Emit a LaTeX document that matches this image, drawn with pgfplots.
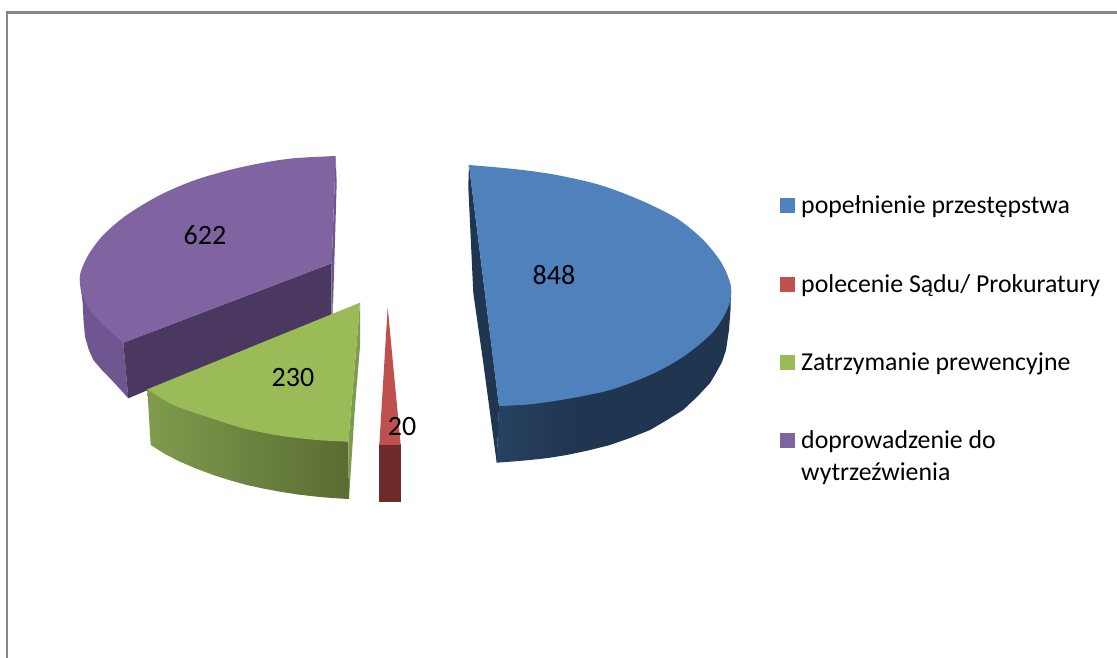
\documentclass[border=0pt]{standalone}
\usepackage{pgfplots}
\pgfplotsset{compat=1.18}
\usepackage{fontspec}
\setmainfont{Carlito}
\definecolor{bluetop}{HTML}{4F81BD}
\definecolor{blueside}{HTML}{1F3550}
\definecolor{blueleft}{HTML}{2E4B6F}
\definecolor{redtop}{HTML}{C0504D}
\definecolor{reddark}{HTML}{6E2B2B}
\definecolor{greentop}{HTML}{9BBB59}
\definecolor{greensliver}{HTML}{7F9B4D}
\definecolor{greenleft}{HTML}{7F9C4D}
\definecolor{greenright}{HTML}{5A6C32}
\definecolor{purpletop}{HTML}{8064A2}
\definecolor{purpleside}{HTML}{6F5690}
\definecolor{purpledark}{HTML}{4A3860}
\definecolor{frameg}{HTML}{868686}
\pgfdeclarehorizontalshading{bluesideshade}{100bp}{color(0bp)=(blueleft); color(12bp)=(blueleft); color(42bp)=(blueside); color(100bp)=(blueside)}
\pgfdeclarehorizontalshading{greensideshade}{100bp}{color(0bp)=(greenleft); color(25bp)=(greenleft); color(75bp)=(greenright); color(100bp)=(greenright)}
\begin{document}
\begin{tikzpicture}
\path[use as bounding box] (0,0) rectangle (1117pt,658pt);
\begin{axis}[
  at={(0,0)}, anchor=south west,
  scale only axis, width=1117pt, height=658pt,
  xmin=0, xmax=1117, ymin=0, ymax=658, y dir=reverse,
  hide axis, clip=true,
]
% frame
\addplot[frameg, line width=2.2pt, line join=miter] coordinates {(7,658) (7,12.5) (1117,12.5)};

% --- blue slice: 848
\addplot[draw=none, shade, shading=bluesideshade] coordinates {
 (731,290) (730.5,310) (729,330) (726,350) (722,362) (716,373) (710,383) (697,397) (683,410) (667,420) (650,430) (630,438) (610,445) (588,450.5) (566.7,455) (548,458) (530,460) (513,461.5) (496.7,462.7) (499,400)} -- cycle;
\addplot[draw=none, fill=blueside] coordinates {(469,165) (468.3,186.7) (473.3,293) (483.3,363) (496.7,462.7) (499,406)} -- cycle;
\addplot[draw=none, fill=bluetop, smooth] coordinates {
 (469,165) (516.7,169.3) (556.7,175) (600,185) (640,200) (676.7,218.3) (703.3,240) (721.7,263.3) (731,286.7)
 (728.3,306.7) (713.3,331.7) (683.3,356.7) (650,375) (610,390) (566.7,399) (530,404.3) (499,406)};
\node[font=\fontsize{28}{34}\selectfont, text=black] at (axis cs:554,275) {848};

% --- red slice: 20
\addplot[draw=none, fill=reddark] coordinates {(379.3,444.3) (400.7,444.3) (400.7,502.3) (379.3,502.3)} -- cycle;
\addplot[draw=none, fill=redtop] coordinates {(387.7,307.3) (379.3,444.8) (400.7,444.8)} -- cycle;
\node[font=\fontsize{28}{34}\selectfont, text=black] at (axis cs:402,427) {20};

% --- purple slice: 622
\addplot[draw=none, fill=purpleside] coordinates {
 (80,275) (81,290) (82.7,303) (83.5,320) (85,336.7) (88.5,349) (93.3,360) (101,369) (110,378.3) (119,388) (128.3,398.3) (123.3,342.7)} -- cycle;
\addplot[draw=none, fill=purpleside] coordinates {(335.7,156) (336.7,183) (335,240) (332.5,322) (331.7,263.3)} -- cycle;
\addplot[draw=none, fill=purpledark] coordinates {(123.3,342.7) (128.3,398.3) (148,390) (331.7,322) (331.7,263.3)} -- cycle;
\addplot[draw=none, fill=purpletop, smooth] coordinates {
 (335.7,156) (293.3,158.3) (260,163.3) (226.7,170.7) (193.3,180.7) (160,195) (126.7,215) (103.3,235) (88.3,255) (80,275)
 (81.7,293) (90,310) (103.3,325) (123.3,342.7)};
\addplot[draw=none, fill=purpletop] coordinates {(335.7,156) (200,230) (123.3,342.7) (331.7,263.3)} -- cycle;
\node[font=\fontsize{28}{34}\selectfont, text=black] at (axis cs:205,235) {622};

% --- green slice: 230
\addplot[draw=none, shade, shading=greensideshade] coordinates {
 (147.3,389.3) (150.7,445) (165,454) (180,461.7) (196,468.5) (213.3,475) (230,480.3) (246.7,485) (263,488.5) (280,491.7) (298,494.5) (316.7,496.7) (332,498) (349,499) (348.3,441.7)} -- cycle;
\addplot[draw=none, fill=greensliver] coordinates {(360,302.7) (360,346.7) (355,406.7) (349,499) (348.3,441.7)} -- cycle;
\addplot[draw=none, fill=greentop, smooth] coordinates {
 (147.3,389.3) (173.3,405) (206.7,416.7) (243.3,428.3) (280,435.7) (316.7,440) (348.3,441.7)};
\addplot[draw=none, fill=greentop] coordinates {(147.3,389.3) (250,424) (348.3,441.7) (360,302.7)} -- cycle;
\node[font=\fontsize{28}{34}\selectfont, text=black] at (axis cs:293,378) {230};

% --- legend
\addplot[draw=none, fill=bluetop] coordinates {(780,198) (795,198) (795,213) (780,213)} -- cycle;
\addplot[draw=none, fill=redtop] coordinates {(780,277) (795,277) (795,292) (780,292)} -- cycle;
\addplot[draw=none, fill=greentop] coordinates {(780,355) (795,355) (795,370) (780,370)} -- cycle;
\addplot[draw=none, fill=purpletop] coordinates {(780,433) (795,433) (795,448) (780,448)} -- cycle;
\newcommand{\lf}{\fontsize{25.8}{32}\selectfont}
\node[font=\lf, anchor=base west, inner sep=0pt] at (axis cs:801,213) {popełnienie przestępstwa};
\node[font=\lf, anchor=base west, inner sep=0pt] at (axis cs:801,292) {polecenie Sądu/ Prokuratury};
\node[font=\lf, anchor=base west, inner sep=0pt] at (axis cs:801,370) {Zatrzymanie prewencyjne};
\node[font=\lf, anchor=base west, inner sep=0pt] at (axis cs:801,448) {doprowadzenie do};
\node[font=\lf, anchor=base west, inner sep=0pt] at (axis cs:801,480) {wytrzeźwienia};
\end{axis}
\end{tikzpicture}
\end{document}
